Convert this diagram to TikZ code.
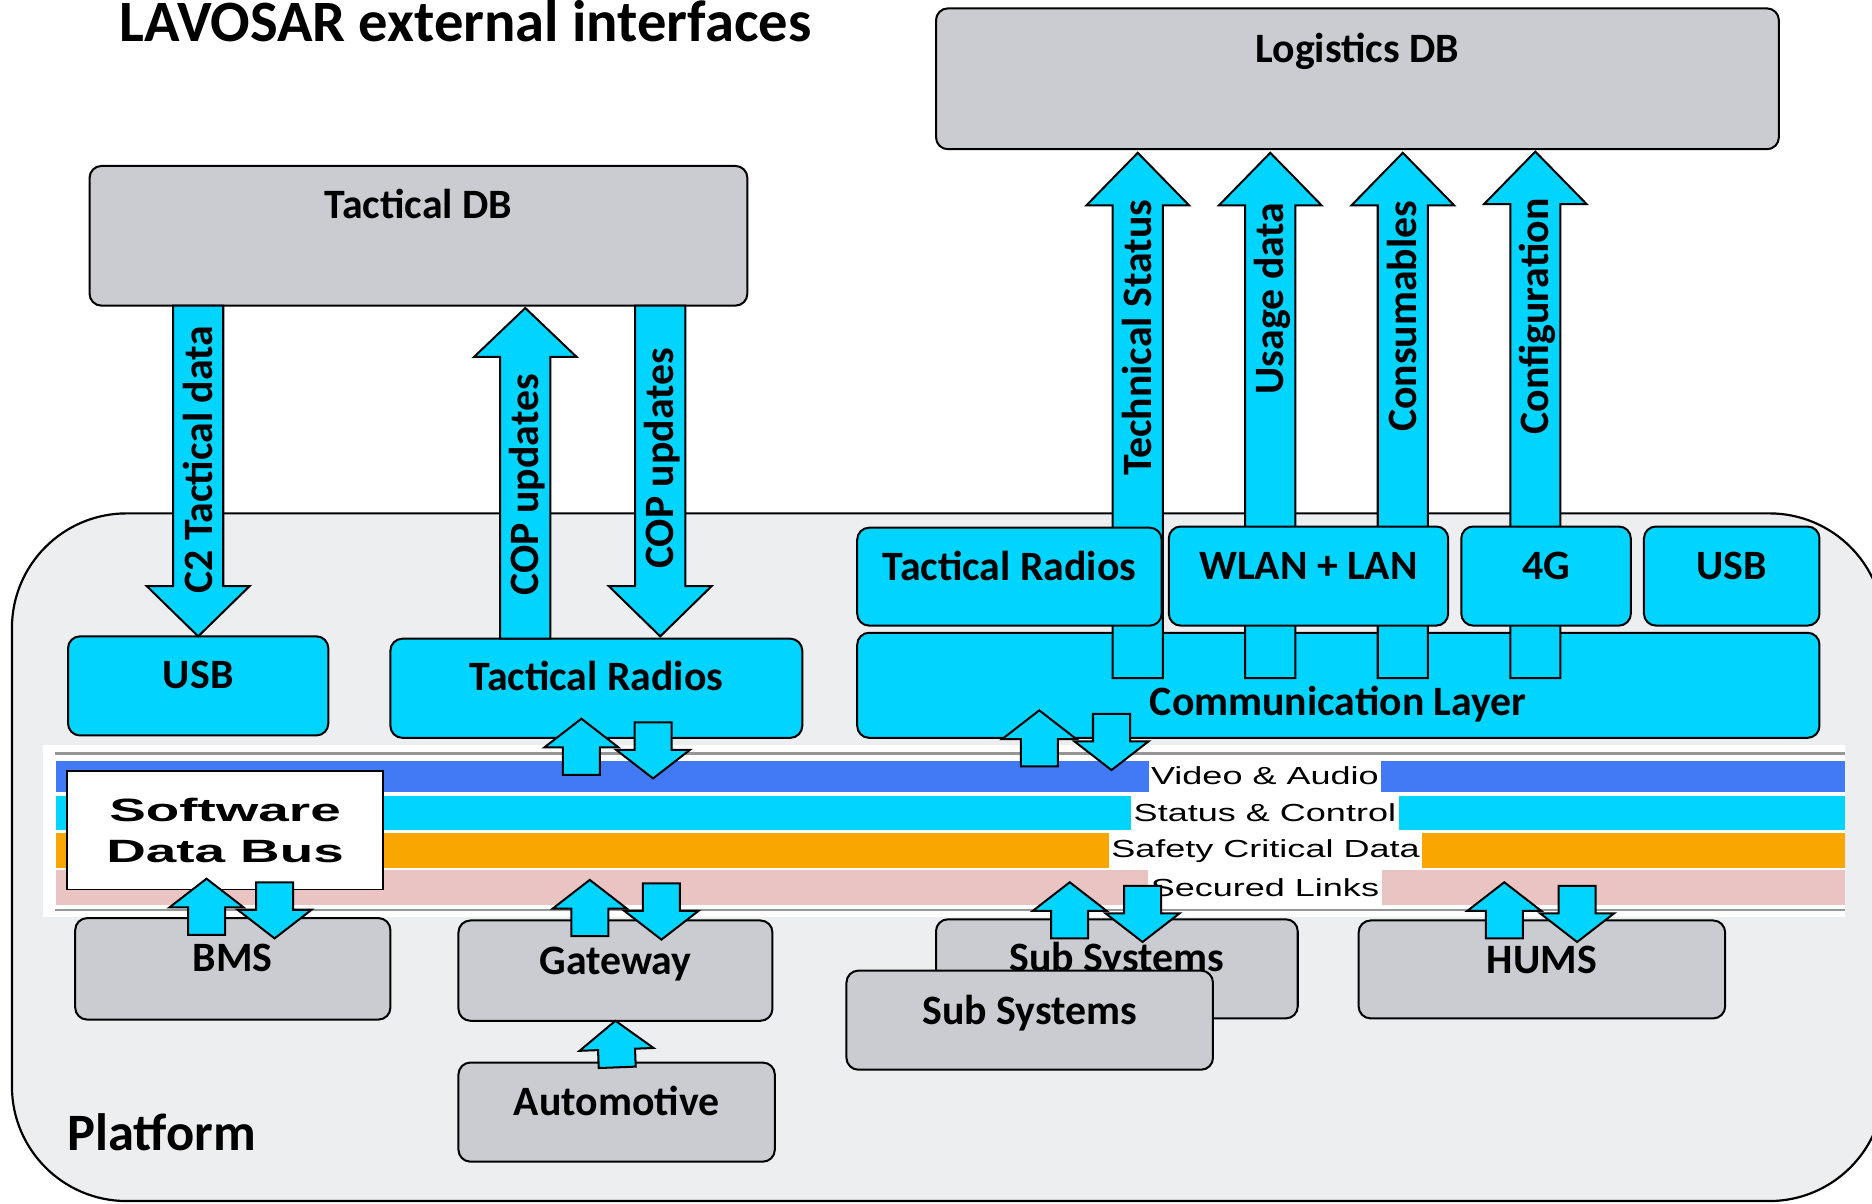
\documentclass[tikz,border=0pt]{standalone}
\usepackage{fontspec}
\setmainfont{Carlito}
\newfontfamily\busfont{Liberation Sans}[FakeStretch=1.46]
\newfontfamily\swfont{Liberation Sans}[FakeStretch=1.7]
\usetikzlibrary{calc}
\definecolor{boxcyan}{RGB}{0,212,255}
\definecolor{boxgray}{RGB}{203,204,209}
\definecolor{platbg}{RGB}{237,238,240}
\definecolor{bandblue}{RGB}{66,122,245}
\definecolor{bandorange}{RGB}{249,166,0}
\definecolor{bandpink}{RGB}{233,196,194}
\definecolor{busline}{RGB}{150,150,150}
\def\UU{0.025cm}
\tikzset{
  box/.style={draw=black, line width=1.2pt, rounded corners=0.25cm, inner sep=0pt, outer sep=0pt},
  graybox/.style={box, fill=boxgray},
  cybox/.style={box, fill=boxcyan},
  lbl/.style={font=\bfseries\fontsize{24.9}{30}\selectfont, anchor=base, inner sep=0pt},
  rotlbl/.style={font=\bfseries\fontsize{24.9}{30}\selectfont, rotate=90, inner sep=0pt, text height=16pt, text depth=0pt, anchor=center},
  blk/.style={draw=black, line width=1.2pt, fill=boxcyan, line join=miter},
  buslbl/.style={fill=white, font=\busfont\fontsize{14.7}{16}\selectfont, inner xsep=1.5pt, inner ysep=0pt, minimum height=26*\UU, anchor=center},
}
\newcommand{\blockarrow}[5]{%
  \coordinate (BAt) at #1;
  \coordinate (BAp) at #2;
  \coordinate (BAb) at ($(BAp)!#5*\UU!(BAt)$);
  \draw[blk] ($(BAt)!#3*\UU!90:(BAp)$) -- ($(BAb)!#3*\UU!90:(BAp)$) -- ($(BAb)!#4*\UU!90:(BAp)$) -- (BAp)
    -- ($(BAb)!#4*\UU!-90:(BAp)$) -- ($(BAb)!#3*\UU!-90:(BAp)$) -- ($(BAt)!#3*\UU!-90:(BAp)$) -- cycle;
}
\newcommand{\pairarrow}[4]{%
  \blockarrow{($(#1)+(#2,#4+47)$)}{($(#1)+(#2,#4)$)}{15.5}{31}{24}
  \blockarrow{($(#1)+(#3,#4+3)$)}{($(#1)+(#3,#4+50)$)}{15.5}{31}{24}
}
\begin{document}
\begin{tikzpicture}[x=0.025cm, y=-0.025cm]
\useasboundingbox (0,0) rectangle (1568,1008);
\clip (0,0) rectangle (1568,1008);
\fill[white] (0,0) rectangle (1568,1008);

% platform
\draw[fill=platbg, line width=1.3pt, rounded corners=2.4cm] (10,430) rectangle (1578,1006);
\node[font=\bfseries\fontsize{34.9}{40}\selectfont, anchor=base, inner sep=0pt] (title) at (390,35) {LAVOSAR external interfaces};
\node[font=\bfseries\fontsize{31.3}{36}\selectfont, anchor=base, inner sep=0pt] (plat) at (135.5,964) {Platform};

% databases
\node[graybox, minimum width=551*\UU, minimum height=117*\UU] (tdb) at (350.5,197.5) {};
\node[lbl] (tdbt) at ($(tdb.north)+(0,44)$) {Tactical DB};
\node[graybox, minimum width=706*\UU, minimum height=118*\UU] (ldb) at (1137,66) {};
\node[lbl] (ldbt) at ($(ldb.north)+(0,45)$) {Logistics DB};

% left interfaces
\node[cybox, minimum width=218*\UU, minimum height=83*\UU] (usbL) at (166,574.5) {};
\node[lbl] at ($(usbL.north)+(0,44)$) {USB};
\node[cybox, minimum width=345*\UU, minimum height=83*\UU] (trL) at (499.5,576.5) {};
\node[lbl] at ($(trL.north)+(0,43)$) {Tactical Radios};

% communication layer
\node[cybox, minimum width=806*\UU, minimum height=88*\UU] (comm) at (1121,574) {};
\node[lbl] at ($(comm.north)+(0,69)$) {Communication Layer};

% column coordinates
\coordinate (cop1) at (440,0);
\coordinate (cop2) at (553,0);
\coordinate (cts) at (953,0);
\coordinate (cud) at (1064,0);
\coordinate (ccs) at (1175,0);
\coordinate (ccf) at (1286,0);

% tactical arrows
\blockarrow{(usbL.north |- tdb.south)}{(usbL.north)}{21}{43}{42}
\node[rotlbl] at ($(usbL.north |- tdb.south)+(1,129)$) {C2 Tactical data};
\blockarrow{(cop1 |- trL.north)}{($(cop1 |- tdb.south)+(0,2)$)}{21}{43}{41}
\node[rotlbl] at ($(cop1)+(0,406)$) {COP updates};
\blockarrow{(cop2 |- tdb.south)}{($(cop2 |- trL.north)+(0,-2)$)}{21}{43}{42}
\node[rotlbl] at ($(cop2)+(0,384)$) {COP updates};

% logistics arrows
\blockarrow{($(cts |- comm.north)+(0,38)$)}{($(cts |- ldb.south)+(0,3)$)}{21}{43}{44}
\node[rotlbl] at ($(cts)+(0,283)$) {Technical Status};
\blockarrow{($(cud |- comm.north)+(0,38)$)}{($(cud |- ldb.south)+(0,3)$)}{21}{43}{44}
\node[rotlbl] at ($(cud)+(0,250)$) {Usage data};
\blockarrow{($(ccs |- comm.north)+(0,38)$)}{($(ccs |- ldb.south)+(0,3)$)}{21}{43}{44}
\node[rotlbl] at ($(ccs)+(0,265)$) {Consumables};
\blockarrow{($(ccf |- comm.north)+(0,38)$)}{($(ccf |- ldb.south)+(0,2)$)}{21}{43}{44}
\node[rotlbl] at ($(ccf)+(0,265)$) {Configuration};

% right interfaces row
\node[cybox, minimum width=255*\UU, minimum height=82*\UU] (trR) at (845.5,483) {};
\node[lbl] at ($(trR.north)+(0,44)$) {Tactical Radios};
\node[cybox, minimum width=234*\UU, minimum height=83*\UU] (wlan) at (1096,482.5) {};
\node[lbl] at ($(wlan.north)+(0,44)$) {WLAN + LAN};
\node[cybox, minimum width=142*\UU, minimum height=83*\UU] (g4) at (1295,482.5) {};
\node[lbl] at ($(g4.north)+(0,44)$) {4G};
\node[cybox, minimum width=147*\UU, minimum height=83*\UU] (usbR) at (1450.5,482.5) {};
\node[lbl] at ($(usbR.north)+(0,44)$) {USB};

% software data bus
\fill[white] (36,624) rectangle (1545,768);
\draw[busline, line width=1.4pt] (46,631) -- (1545,631);
\draw[busline, line width=1.4pt] (46,762) -- (1545,762);
\fill[bandblue] (47,637) rectangle (1545,663);
\fill[boxcyan] (47,667) rectangle (1545,695);
\fill[bandorange] (47,698) rectangle (1545,727);
\fill[bandpink] (47,729) rectangle (1545,758);
\node[buslbl] (bva) at (1059.5,650) {Video \& Audio};
\node[buslbl, minimum height=28*\UU] (bsc) at (1059.5,681) {Status \& Control};
\node[buslbl, minimum height=29*\UU] (bsd) at (1060,712.5) {Safety Critical Data};
\node[buslbl, minimum height=29*\UU] (bsl) at (1059.5,743.5) {Secured Links};
\node[draw=black, line width=1pt, fill=white, minimum width=265*\UU, minimum height=99*\UU, inner sep=0pt, align=center,
      font=\swfont\bfseries\fontsize{19.2}{24.2}\selectfont] (sdb) at (188.5,695.5) {Software\\Data Bus};

% platform subsystems
\node[graybox, minimum width=264*\UU, minimum height=85*\UU] (bms) at (195,811.5) {};
\node[lbl] at ($(bms.north)+(0,45)$) {BMS};
\node[graybox, minimum width=263*\UU, minimum height=84*\UU] (gw) at (515.5,813) {};
\node[lbl] at ($(gw.north)+(0,45)$) {Gateway};
\node[graybox, minimum width=265*\UU, minimum height=83*\UU] (auto) at (516.5,931.5) {};
\node[lbl] at ($(auto.north)+(0,44)$) {Automotive};
\node[graybox, minimum width=303*\UU, minimum height=83*\UU] (subB) at (935.5,811.5) {};
\node[lbl] at ($(subB.north)+(0,44)$) {Sub Systems};
\node[graybox, minimum width=307*\UU, minimum height=82*\UU] (hums) at (1291.5,812) {};
\node[lbl] at ($(hums.north)+(0,44)$) {HUMS};

% small bidirectional arrows
\pairarrow{trL.south}{-12.5}{47.5}{-16}
\pairarrow{comm.south}{-250.5}{-190}{-23}
\pairarrow{bms.north}{-22}{35}{-33}
\pairarrow{gw.north}{-21.5}{38.5}{-34}
\pairarrow{subB.north}{-39.5}{21.5}{-31}
\pairarrow{hums.north}{-31.5}{29.5}{-32}
\blockarrow{($(auto.north)+(0.5,4)$)}{(gw.south)}{15.5}{31}{24}

% front sub systems
\node[graybox, minimum width=307*\UU, minimum height=83*\UU] (subF) at (862.5,854.5) {};
\node[lbl] at ($(subF.north)+(0,45)$) {Sub Systems};
\end{tikzpicture}
\end{document}
